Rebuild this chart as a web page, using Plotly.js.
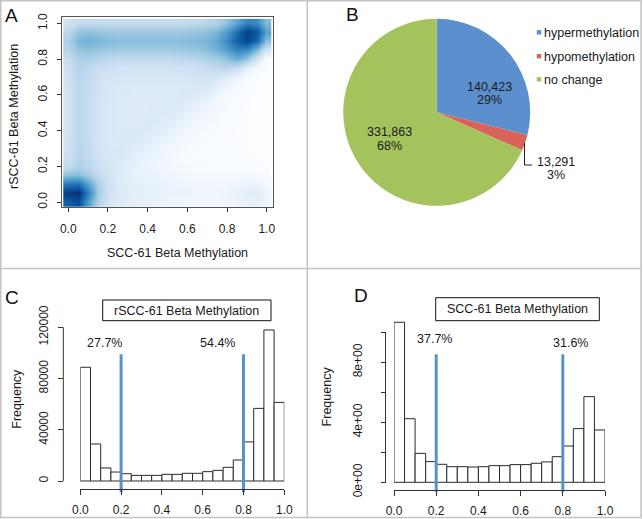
<!DOCTYPE html>
<html><head><meta charset="utf-8">
<script src="https://cdn.plot.ly/plotly-3.0.1.min.js"></script>
<style>html,body{margin:0;padding:0;background:#fff}#chart{width:643px;height:519px}</style>
</head><body><div id="chart"></div>
<script>
// ---------------- DATA ----------------
// Panel A: smoothed density (transformed intensity 0..1) on a 0.05 grid
const densityX = [0,0.05,0.1,0.15,0.2,0.25,0.3,0.35,0.4,0.45,0.5,0.55,0.6,0.65,0.7,0.75,0.8,0.85,0.9,0.95,1];
const densityY = [0,0.05,0.1,0.15,0.2,0.25,0.3,0.35,0.4,0.45,0.5,0.55,0.6,0.65,0.7,0.75,0.8,0.85,0.9,0.95,1];
const densityZ = [
 [0.84,0.90,0.62,0.38,0.27,0.22,0.20,0.19,0.18,0.17,0.16,0.15,0.15,0.14,0.14,0.14,0.15,0.16,0.18,0.19,0.14],
 [0.95,1.00,0.72,0.42,0.29,0.24,0.21,0.20,0.19,0.18,0.17,0.16,0.16,0.15,0.15,0.15,0.16,0.18,0.20,0.21,0.16],
 [0.75,0.78,0.60,0.40,0.29,0.23,0.20,0.19,0.18,0.17,0.16,0.15,0.15,0.14,0.14,0.14,0.14,0.15,0.16,0.16,0.12],
 [0.48,0.50,0.42,0.33,0.27,0.22,0.19,0.18,0.17,0.16,0.15,0.14,0.13,0.12,0.12,0.12,0.12,0.12,0.12,0.11,0.09],
 [0.34,0.40,0.36,0.30,0.26,0.22,0.19,0.17,0.16,0.15,0.14,0.13,0.12,0.11,0.11,0.10,0.10,0.10,0.09,0.08,0.06],
 [0.30,0.38,0.34,0.28,0.25,0.24,0.21,0.18,0.16,0.15,0.14,0.12,0.11,0.10,0.10,0.09,0.09,0.08,0.07,0.06,0.05],
 [0.29,0.37,0.33,0.27,0.24,0.24,0.23,0.21,0.18,0.16,0.14,0.13,0.11,0.10,0.09,0.09,0.08,0.07,0.06,0.05,0.04],
 [0.28,0.36,0.32,0.27,0.24,0.23,0.23,0.23,0.21,0.18,0.16,0.14,0.12,0.11,0.10,0.09,0.08,0.07,0.06,0.05,0.04],
 [0.28,0.36,0.32,0.27,0.24,0.23,0.23,0.23,0.23,0.21,0.18,0.16,0.14,0.12,0.11,0.10,0.09,0.07,0.06,0.05,0.04],
 [0.28,0.36,0.32,0.27,0.24,0.23,0.22,0.22,0.23,0.23,0.21,0.18,0.16,0.14,0.12,0.11,0.09,0.08,0.06,0.05,0.04],
 [0.28,0.36,0.32,0.27,0.24,0.23,0.22,0.22,0.22,0.23,0.23,0.21,0.18,0.16,0.14,0.12,0.10,0.08,0.07,0.05,0.04],
 [0.28,0.36,0.32,0.27,0.24,0.23,0.22,0.22,0.22,0.22,0.23,0.23,0.21,0.18,0.16,0.13,0.11,0.09,0.07,0.05,0.04],
 [0.28,0.36,0.32,0.27,0.25,0.23,0.23,0.22,0.22,0.22,0.22,0.23,0.24,0.22,0.19,0.15,0.12,0.10,0.07,0.05,0.04],
 [0.28,0.36,0.33,0.28,0.25,0.24,0.23,0.23,0.23,0.23,0.23,0.23,0.24,0.25,0.23,0.19,0.15,0.11,0.08,0.06,0.04],
 [0.29,0.37,0.34,0.29,0.27,0.26,0.25,0.25,0.25,0.25,0.25,0.25,0.26,0.27,0.28,0.26,0.21,0.16,0.11,0.07,0.05],
 [0.30,0.38,0.35,0.31,0.29,0.28,0.28,0.28,0.28,0.28,0.28,0.28,0.29,0.30,0.32,0.35,0.36,0.30,0.20,0.11,0.06],
 [0.32,0.40,0.40,0.37,0.35,0.34,0.34,0.34,0.34,0.34,0.34,0.35,0.36,0.37,0.40,0.42,0.48,0.55,0.45,0.25,0.10],
 [0.38,0.46,0.48,0.46,0.44,0.43,0.43,0.43,0.43,0.43,0.43,0.44,0.45,0.46,0.49,0.54,0.62,0.72,0.68,0.50,0.26],
 [0.40,0.52,0.54,0.52,0.50,0.49,0.49,0.49,0.49,0.49,0.49,0.49,0.50,0.51,0.53,0.58,0.70,0.84,0.92,0.80,0.48],
 [0.36,0.46,0.48,0.46,0.45,0.44,0.44,0.44,0.44,0.44,0.44,0.44,0.45,0.46,0.48,0.53,0.64,0.80,0.95,0.86,0.60],
 [0.28,0.33,0.34,0.34,0.33,0.33,0.33,0.33,0.33,0.33,0.33,0.33,0.34,0.35,0.37,0.40,0.48,0.60,0.72,0.68,0.50]
];

// Panel B: pie
const pieLabels = ['hypermethylation', 'hypomethylation', 'no change'];
const pieValues = [140423, 13291, 331863];

// Panels C & D: histograms (20 bins of width 0.05)
const binCenters = [0.025,0.075,0.125,0.175,0.225,0.275,0.325,0.375,0.425,0.475,0.525,0.575,0.625,0.675,0.725,0.775,0.825,0.875,0.925,0.975];
const rsccCounts = [88800,28900,10200,7000,5700,4400,4400,4400,5200,5200,6000,6000,7300,8300,10700,16400,30500,56700,117900,61400];
const sccCounts  = [10.67,4.24,1.93,1.38,1.20,1.04,1.04,1.02,1.04,1.11,1.11,1.18,1.18,1.27,1.36,1.71,2.42,3.58,5.71,3.49];
const cutoffs = [0.2, 0.8];
const rsccCutLine = [-8800, 99000];
const sccCutLine = [-0.63, 8.53];
const rsccPctText = ['27.7%', '54.4%'];
const rsccPctX = [0.121, 0.672];
const rsccPctY = [108000, 108000];
const sccPctText = ['37.7%', '31.6%'];
const sccPctX = [0.194, 0.837];
const sccPctY = [9.53, 9.31];

// tick labels
const xTicks01 = [0, 0.2, 0.4, 0.6, 0.8, 1.0];
const rsccYTicks = [0, 40000, 80000, 120000];
const rsccYTickText = ['0', '40000', '80000', '120000'];
const sccYTicks = [0, 2, 4, 6, 8, 10];
const sccYTickText = ['0e+00', '', '4e+00', '', '8e+00', ''];

// ---------------- LAYOUT HELPERS ----------------
const W = 643, H = 519;
const fx = px => px / W;
const fy = py => 1 - py / H;
const FONT = 'Liberation Sans, Arial, Helvetica, sans-serif';
const TXT = '#1a1a1a';
const AX = '#333';
const blues = ['#FFFFFF','#F7FBFF','#DEEBF7','#C6DBEF','#9ECAE1','#6BAED6','#4292C6','#2171B5','#08519C','#08306B'];
const colorscale = blues.map((c, i) => [i / (blues.length - 1), c]);
const pieColors = ['#5b8fcd', '#d9625b', '#a5c35d'];
const cutColor = '#5a91c9';

function ann(text, xpx, ypx, o = {}) {
  return Object.assign({
    text, x: fx(xpx), y: fy(ypx), xref: 'paper', yref: 'paper',
    showarrow: false, xanchor: 'center', yanchor: 'middle',
    font: {family: FONT, size: 12.5, color: TXT}
  }, o);
}

// y-axis geometry for histograms (pixel positions of value 0 and top tick)
function yRange(zeroPx, topPx, topVal, domBottomPx, domTopPx) {
  const s = (zeroPx - topPx) / topVal;
  return [-(domBottomPx - zeroPx) / s, (zeroPx - domTopPx) / s];
}

// ---------------- TRACES ----------------
const traces = [];
traces.push({
  type: 'heatmap', x: densityX, y: densityY, z: densityZ,
  xaxis: 'x', yaxis: 'y', colorscale, zmin: 0, zmax: 1,
  zsmooth: 'best', showscale: false, hoverinfo: 'skip'
});
traces.push({
  type: 'pie', labels: pieLabels, values: pieValues, sort: false,
  direction: 'clockwise', rotation: 0, textinfo: 'none', hoverinfo: 'skip',
  marker: {colors: pieColors, line: {width: 0}},
  domain: {x: [fx(436.7 - 93.5), fx(436.7 + 93.5)], y: [fy(112.3 + 93.5), fy(112.3 - 93.5)]},
  showlegend: false
});
function histTraces(xa, ya, counts, cutLine) {
  return [{
    type: 'bar', x: binCenters, y: counts, width: 0.05, xaxis: xa, yaxis: ya,
    marker: {color: '#ffffff', line: {color: '#2a2a2a', width: 1}},
    cliponaxis: false, hoverinfo: 'skip'
  }, {
    type: 'scatter', mode: 'lines', xaxis: xa, yaxis: ya, hoverinfo: 'skip',
    x: [cutoffs[0], cutoffs[0], null, cutoffs[1], cutoffs[1]],
    y: [cutLine[0], cutLine[1], null, cutLine[0], cutLine[1]],
    line: {color: cutColor, width: 3}
  }];
}
traces.push(...histTraces('x2', 'y2', rsccCounts, rsccCutLine));
traces.push(...histTraces('x3', 'y3', sccCounts, sccCutLine));

// ---------------- AXES ----------------
const tickFont = {family: FONT, size: 12, color: TXT};
const common = {showgrid: false, zeroline: false, ticks: 'outside', tickcolor: AX, tickwidth: 1, tickfont: tickFont, fixedrange: true};

const layout = {
  width: W, height: H, margin: {l: 0, r: 0, t: 0, b: 0},
  paper_bgcolor: '#fff', plot_bgcolor: 'rgba(0,0,0,0)',
  showlegend: false, hovermode: false,
  font: {family: FONT, color: TXT},
  xaxis: Object.assign({}, common, {
    domain: [fx(62.3), fx(273.3)], range: [-0.03, 1.033], anchor: 'y',
    showline: true, mirror: true, linecolor: '#555', linewidth: 1,
    tickvals: xTicks01, tickformat: '.1f', ticklen: 4, ticklabelstandoff: 7
  }),
  yaxis: Object.assign({}, common, {
    domain: [fy(206.7), fy(17.3)], range: [-0.025, 1.034], anchor: 'x',
    showline: true, mirror: true, linecolor: '#555', linewidth: 1,
    tickvals: xTicks01, tickformat: '.1f', ticklen: 4, tickangle: -90, ticklabelstandoff: 6
  }),
  xaxis2: Object.assign({}, common, {
    domain: [fx(80.3), fx(284.3)], range: [0, 1], anchor: 'free', position: fy(489),
    showline: true, linecolor: AX, linewidth: 1,
    tickvals: xTicks01, tickformat: '.1f', ticklen: 5, ticklabelstandoff: 5
  }),
  yaxis2: Object.assign({}, common, {
    domain: [fy(494), fy(318)], range: yRange(481, 327.3, 120000, 494, 318),
    anchor: 'free', position: fx(63.3), showline: false,
    tickvals: rsccYTicks, ticktext: rsccYTickText, ticklen: 5, tickangle: -90, ticklabelstandoff: 6
  }),
  xaxis3: Object.assign({}, common, {
    domain: [fx(394), fx(605)], range: [0, 1], anchor: 'free', position: fy(490),
    showline: true, linecolor: AX, linewidth: 1,
    tickvals: xTicks01, tickformat: '.1f', ticklen: 5, ticklabelstandoff: 5
  }),
  yaxis3: Object.assign({}, common, {
    domain: [fy(494), fy(318)], range: yRange(482.3, 332.3, 10, 494, 318),
    anchor: 'free', position: fx(385.5), showline: false,
    tickvals: sccYTicks, ticktext: sccYTickText, ticklen: 5, tickangle: -90, ticklabelstandoff: 14
  }),
  shapes: [],
  annotations: []
};

// R-style y axis lines spanning first..last tick
layout.shapes.push({type: 'line', xref: 'paper', yref: 'y2', x0: fx(63.3), x1: fx(63.3),
  y0: rsccYTicks[0], y1: rsccYTicks[rsccYTicks.length - 1], line: {color: AX, width: 1}});
layout.shapes.push({type: 'line', xref: 'paper', yref: 'y3', x0: fx(385.5), x1: fx(385.5),
  y0: sccYTicks[0], y1: sccYTicks[sccYTicks.length - 1], line: {color: AX, width: 1}});

// panel frames
const frameStyle = {color: '#c4c4c4', width: 1.5};
layout.shapes.push({type: 'rect', xref: 'paper', yref: 'paper', x0: fx(0.8), x1: fx(641), y0: fy(517.5), y1: fy(0.8), line: frameStyle});
layout.shapes.push({type: 'line', xref: 'paper', yref: 'paper', x0: fx(307.3), x1: fx(307.3), y0: fy(517.5), y1: fy(0.8), line: frameStyle});
layout.shapes.push({type: 'line', xref: 'paper', yref: 'paper', x0: fx(0.8), x1: fx(641), y0: fy(268.5), y1: fy(268.5), line: frameStyle});

// title boxes for histograms
layout.shapes.push({type: 'rect', xref: 'paper', yref: 'paper', x0: fx(102.7), x1: fx(271), y0: fy(320.7), y1: fy(300), line: {color: '#111', width: 1}});
layout.shapes.push({type: 'rect', xref: 'paper', yref: 'paper', x0: fx(435.7), x1: fx(599.3), y0: fy(320.7), y1: fy(297.7), line: {color: '#111', width: 1}});
layout.annotations.push(ann('rSCC-61 Beta Methylation', 186.8, 310.5));
layout.annotations.push(ann('SCC-61 Beta Methylation', 517.5, 309.2));

// panel letters
const letterFont = {family: FONT, size: 19, color: '#111'};
layout.annotations.push(ann('A', 11.5, 15, {font: letterFont}));
layout.annotations.push(ann('B', 352.5, 14.5, {font: letterFont}));
layout.annotations.push(ann('C', 11.5, 297, {font: letterFont}));
layout.annotations.push(ann('D', 360.5, 295, {font: letterFont}));

// axis titles
layout.annotations.push(ann('SCC-61 Beta Methylation', 177.7, 253));
layout.annotations.push(ann('rSCC-61 Beta Methylation', 13.3, 116.7, {textangle: -90}));
layout.annotations.push(ann('Frequency', 16.7, 399, {textangle: -90}));
layout.annotations.push(ann('Frequency', 326.7, 396.7, {textangle: -90}));

// percentage labels on histograms
rsccPctText.forEach((t, i) => layout.annotations.push({text: t, x: rsccPctX[i], y: rsccPctY[i], xref: 'x2', yref: 'y2',
  showarrow: false, font: {family: FONT, size: 12.5, color: TXT}}));
sccPctText.forEach((t, i) => layout.annotations.push({text: t, x: sccPctX[i], y: sccPctY[i], xref: 'x3', yref: 'y3',
  showarrow: false, font: {family: FONT, size: 12.5, color: TXT}}));

// pie labels (values and percents computed from data)
const total = pieValues.reduce((a, b) => a + b, 0);
const fmt = v => v.toLocaleString('en-US');
const pct = v => Math.round(v / total * 100) + '%';
const pieLabelPos = [[489, 86.7, 100], [556, 161.7, 175], [390, 131.7, 145.5]];
pieValues.forEach((v, i) => {
  const p = pieLabelPos[i];
  layout.annotations.push(ann(fmt(v), p[0], p[1]));
  layout.annotations.push(ann(pct(v), p[0], p[2]));
});
// leader line for small slice
layout.shapes.push({type: 'path', xref: 'paper', yref: 'paper',
  path: `M ${fx(524.5)} ${fy(143)} L ${fx(524.5)} ${fy(165)} L ${fx(532)} ${fy(165)}`,
  line: {color: '#222', width: 1}});

// legend
const legendRows = [33.3, 57.2, 80.3];
pieLabels.forEach((lab, i) => {
  const y = legendRows[i];
  layout.shapes.push({type: 'rect', xref: 'paper', yref: 'paper', x0: fx(536.8), x1: fx(541.2),
    y0: fy(y + 1.2), y1: fy(y - 3.2), fillcolor: pieColors[i], line: {width: 0}});
  layout.annotations.push(ann(lab, 541.8, y, {xanchor: 'left'}));
});

Plotly.newPlot('chart', traces, layout, {staticPlot: true, displayModeBar: false});
</script>
</body></html>
